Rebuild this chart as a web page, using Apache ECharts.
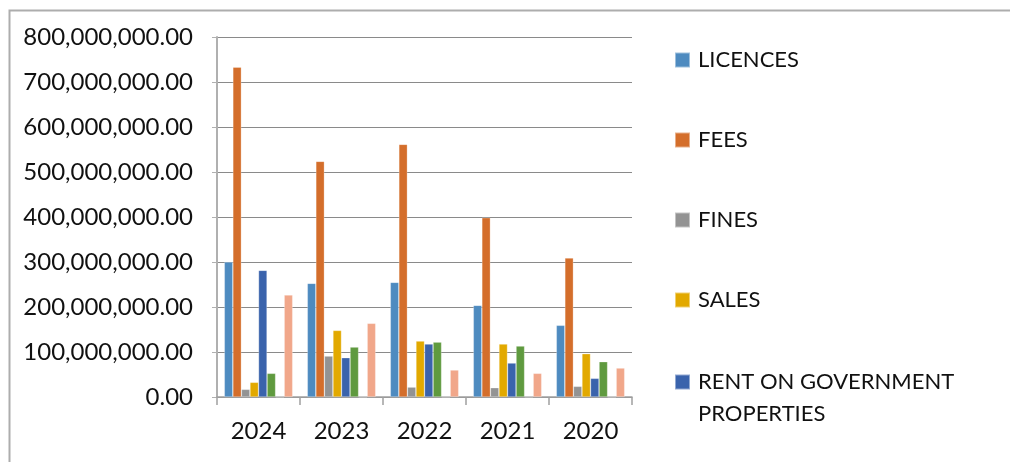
<!DOCTYPE html>
<html>
<head>
<meta charset="utf-8">
<script src="https://cdn.jsdelivr.net/npm/echarts@6/dist/echarts.min.js"></script>
<style>
  html, body { margin: 0; padding: 0; background: #fff; }
  #chart { width: 1010px; height: 462px; }
</style>
</head>
<body>
<div id="chart"></div>
<script>
// years on the x axis
const years = ['2024', '2023', '2022', '2021', '2020']

// revenue heads (only the first five show in the legend, the rest is cut off)
const names = ['LICENCES', 'FEES', 'FINES', 'SALES', 'RENT ON GOVERNMENT PROPERTIES', 'SERIES 6', 'SERIES 7', 'SERIES 8']
const colors = ['#4E8BC0', '#D46E2B', '#939393', '#E2A900', '#3A63AC', '#5F9A3F', '#2F5597', '#F1A78A']

const licences = [300000000, 252600000, 254800000, 203700000, 159300000]
const fees = [733000000, 523700000, 561500000, 398500000, 308900000]
const fines = [17000000, 91000000, 22000000, 20700000, 23700000]
const sales = [32600000, 148000000, 124400000, 117800000, 96300000]
const rent = [281500000, 87400000, 117800000, 75500000, 41500000]
const series6 = [52600000, 111000000, 122000000, 113300000, 78500000]
const series7 = [0, 0, 0, 0, 0]
const series8 = [226700000, 163700000, 60000000, 52600000, 64400000]

const values = [licences, fees, fines, sales, rent, series6, series7, series8]

const yTicks = { min: 0, max: 800000000, interval: 100000000 }

const font = 'Lato'
let myChart = echarts.init(document.getElementById('chart'))

let legendBase = {
    orient: 'vertical',
    left: 669,
    itemWidth: 15,
    itemHeight: 15,
    itemGap: 58,
    icon: 'rect',
    textStyle: { fontFamily: font, fontSize: 22, color: '#111', padding: [0, 0, 0, 3] }
}

let option = {
    animation: false,
    textStyle: { fontFamily: font },
    graphic: [{
        type: 'rect',
        left: 7,
        top: 8,
        shape: { width: 1100, height: 600 },
        style: { fill: 'none', stroke: '#ADADAD', lineWidth: 2 },
        silent: true
    }],
    grid: { left: 217, right: 378, top: 37, bottom: 65 },
    legend: [
        { ...legendBase, top: 44, data: names.slice(0, 4) },
        {
            // two line entry: a blank first line keeps the first text line beside the swatch
            ...legendBase,
            top: 329,
            data: [{ name: names[4], textStyle: { lineHeight: 32 } }],
            formatter: () => ' \nRENT ON GOVERNMENT\nPROPERTIES'
        }
    ],
    xAxis: {
        type: 'category',
        data: years,
        axisLine: { lineStyle: { color: '#A0A0A0', width: 1.5 } },
        axisTick: { show: true, length: 8, lineStyle: { color: '#A0A0A0', width: 1.5 } },
        axisLabel: { fontFamily: font, fontSize: 24, color: '#111', margin: 22 }
    },
    yAxis: {
        type: 'value',
        min: yTicks.min,
        max: yTicks.max,
        interval: yTicks.interval,
        axisLine: { show: true, lineStyle: { color: '#B0B0B0', width: 2 } },
        axisTick: { show: true, length: 5, lineStyle: { color: '#B0B0B0' } },
        splitLine: { lineStyle: { color: '#8A8A8A', width: 1 } },
        axisLabel: {
            fontFamily: font,
            fontSize: 24,
            color: '#111',
            margin: 24,
            formatter: (v) => v.toLocaleString('en-US', { minimumFractionDigits: 2, maximumFractionDigits: 2 })
        }
    },
    series: names.map((n, i) => ({
        name: n,
        type: 'bar',
        data: values[i],
        barGap: '0%',
        barCategoryGap: '17.6%',
        itemStyle: { color: colors[i], borderColor: 'rgba(255,255,255,0.45)', borderWidth: 0.6 }
    }))
}

myChart.setOption(option)
</script>
</body>
</html>
